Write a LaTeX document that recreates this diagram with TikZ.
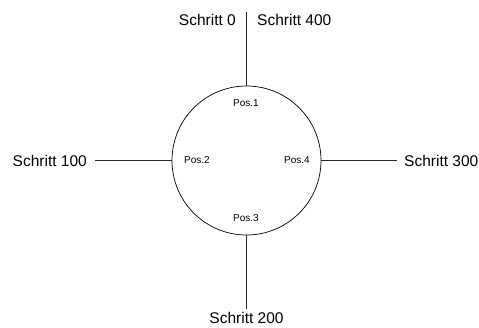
\documentclass[tikz,border=0pt]{standalone}
\usepackage{fontspec}
\setmainfont{Liberation Sans}
\usetikzlibrary{positioning}

\begin{document}
\begin{tikzpicture}[x=1pt,y=-1pt,
    schritt/.style={font=\fontsize{15.5}{18}\selectfont, inner sep=0pt},
    poslabel/.style={font=\fontsize{10}{12}\selectfont, inner sep=0pt},
    spoke/.style={draw=black!85, line width=0.7pt}]

    \useasboundingbox (0,0) rectangle (479,327);

    % Draw the disc
    \node[draw, circle, minimum size=149pt, inner sep=0pt, line width=0.7pt] (disk) at (246.5,160.5) {};

    % Positions on the disc
    \node[poslabel] (p1) at (246,103) {Pos.1};
    \node[poslabel] (p2) at (197,160.5) {Pos.2};
    \node[poslabel] (p3) at (246,218) {Pos.3};
    \node[poslabel] (p4) at (297,160.5) {Pos.4};

    % Step labels
    \coordinate (top) at (246.5,12);
    \node[schritt, anchor=east] (s0) at (236,20) {Schritt 0};
    \node[schritt, anchor=west] (s400) at (257,20) {Schritt 400};
    \node[schritt, anchor=east] (s100) at (87,160.5) {Schritt 100};
    \node[schritt, anchor=west] (s300) at (404,160.5) {Schritt 300};
    \node[schritt] (s200) at (246.5,318) {Schritt 200};

    % Draw the spokes
    \draw[spoke] (disk.north) -- (top);
    \draw[spoke, shorten >=8pt] (disk.west) -- (s100);
    \draw[spoke, shorten >=7pt] (disk.east) -- (s300);
    \draw[spoke, shorten >=3.5pt] (disk.south) -- (s200);

\end{tikzpicture}
\end{document}
